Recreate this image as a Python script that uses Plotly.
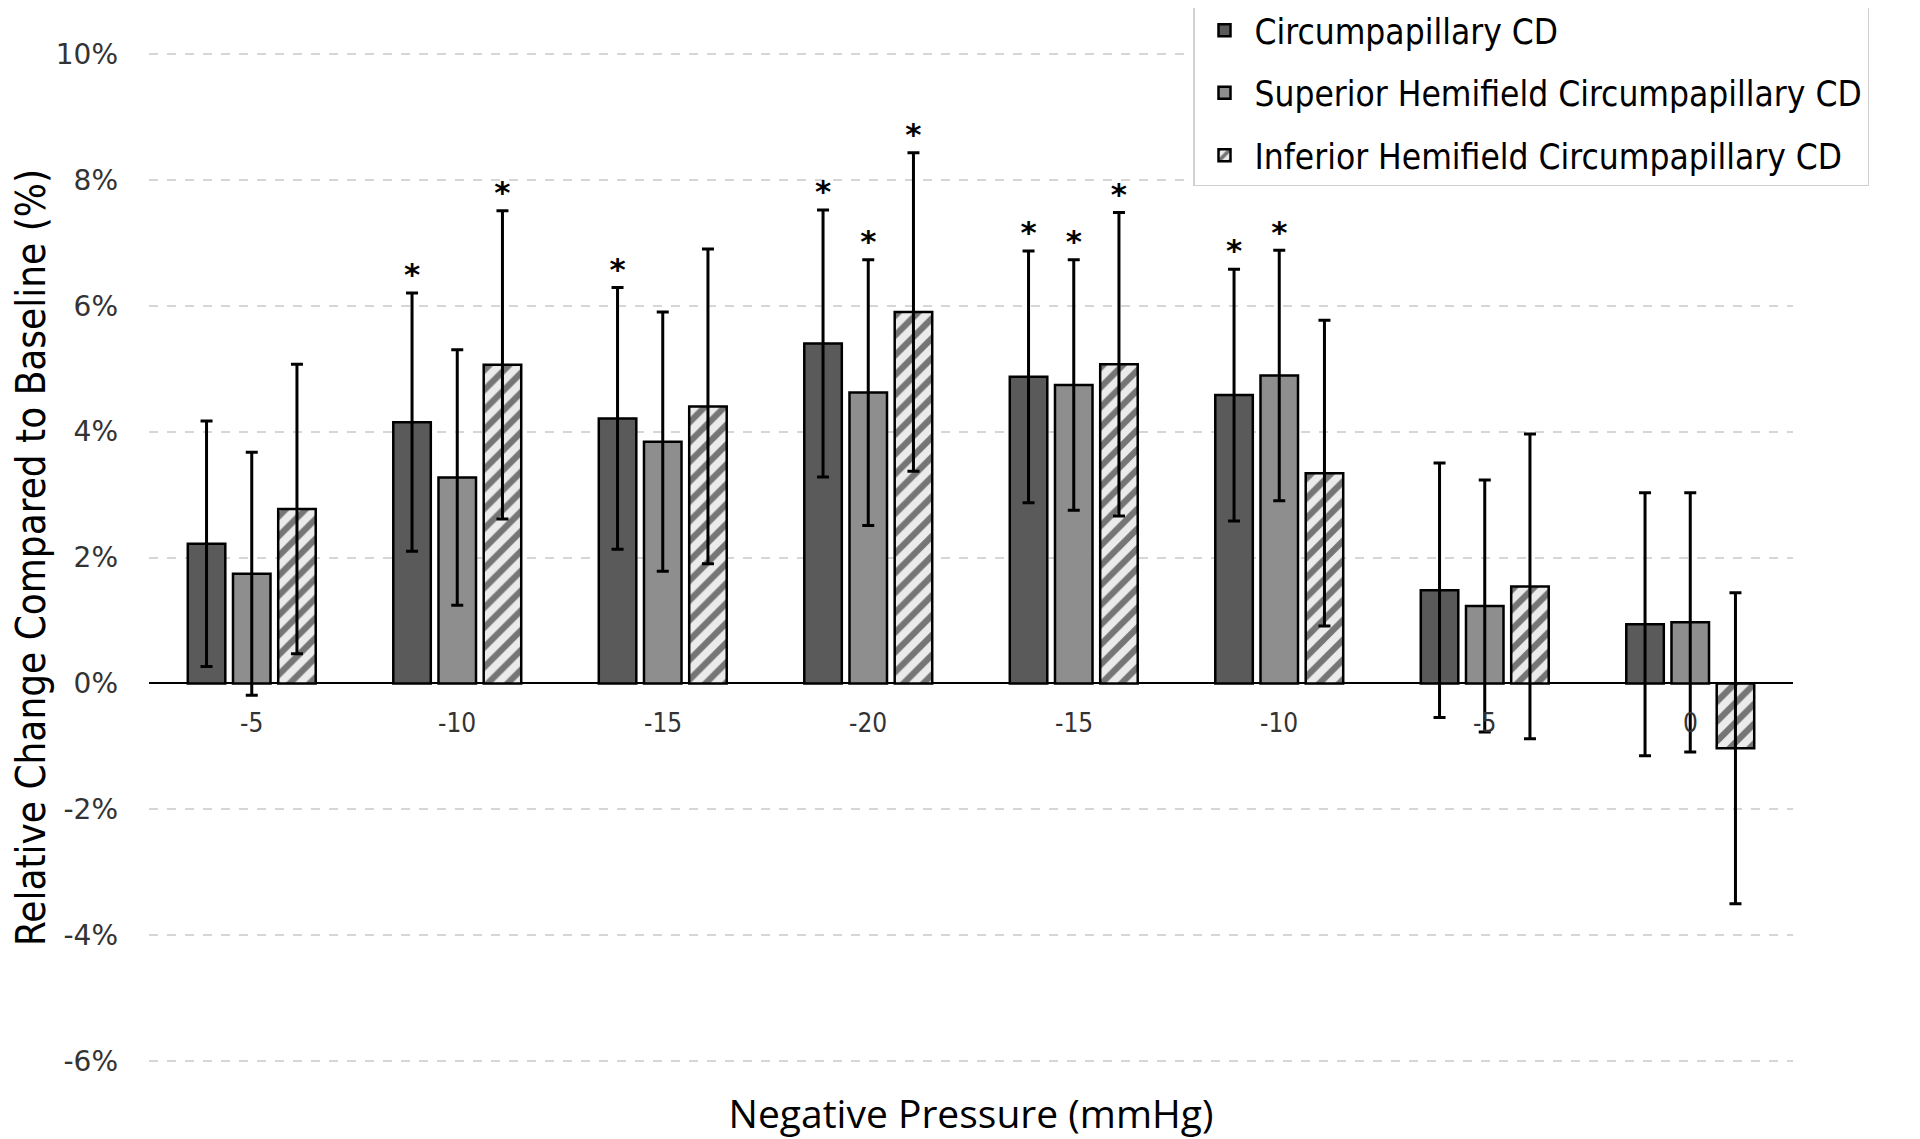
import plotly.graph_objects as go

# pressure steps along the protocol (repeated labels, so a numeric axis is used)
pressure_labels = ["-5", "-10", "-15", "-20", "-15", "-10", "-5", "0"]

cd_mean = [2.22, 4.15, 4.21, 5.40, 4.87, 4.58, 1.48, 0.94]
cd_err = [1.95, 2.05, 2.08, 2.12, 2.00, 2.00, 2.02, 2.09]
cd_sig = [0, 1, 1, 1, 1, 1, 0, 0]

sup_mean = [1.74, 3.27, 3.84, 4.62, 4.74, 4.89, 1.23, 0.97]
sup_err = [1.93, 2.03, 2.06, 2.11, 1.99, 1.99, 2.00, 2.06]
sup_sig = [0, 0, 0, 1, 1, 1, 0, 0]

inf_mean = [2.77, 5.06, 4.40, 5.90, 5.07, 3.34, 1.54, -1.03]
inf_err = [2.30, 2.45, 2.50, 2.53, 2.41, 2.43, 2.42, 2.47]
inf_sig = [0, 1, 0, 1, 1, 0, 0, 0]

y_ticks = [-6, -4, -2, 0, 2, 4, 6, 8, 10]
y_ticktext = [f"{v}%" for v in y_ticks]

xpos = list(range(len(pressure_labels)))
BAR_STEP = 0.22  # one bar slot, as fraction of a category

series = [
    ("Circumpapillary CD", cd_mean, cd_err, cd_sig, "#5a5a5a", None),
    ("Superior Hemifield Circumpapillary CD", sup_mean, sup_err, sup_sig, "#8e8e8e", None),
    ("Inferior Hemifield Circumpapillary CD", inf_mean, inf_err, inf_sig, "#ebebeb", "/"),
]

fig = go.Figure()
for k, (name, mean, err, sig, color, pattern) in enumerate(series):
    marker = dict(color=color, line=dict(color="black", width=2.5))
    if pattern:
        marker["pattern"] = dict(shape=pattern, fgcolor="black", bgcolor=color,
                                 size=14, solidity=0.45)
    fig.add_trace(go.Bar(
        x=xpos, y=mean, name=name, marker=marker,
        legendgroup=name,
        error_y=dict(type="data", array=err, color="black", thickness=3, width=6),
    ))

# significance stars above the error bars
for k, (name, mean, err, sig, color, pattern) in enumerate(series):
    sx = [x + (k - 1) * BAR_STEP for x, s in zip(xpos, sig) if s]
    sy = [m + e for m, e, s in zip(mean, err, sig) if s]
    fig.add_trace(go.Scatter(
        x=sx, y=sy, mode="text", text=["<b>*</b>"] * len(sx), textposition="top center",
        textfont=dict(family="DejaVu Sans", size=31, color="black"),
        showlegend=False, hoverinfo="skip", cliponaxis=False,
    ))

# x tick labels sit under the zero line, like the original
for x, lab in zip(xpos, pressure_labels):
    fig.add_annotation(x=x, y=0, text=lab, showarrow=False, yanchor="top", yshift=-23,
                       font=dict(family="DejaVu Sans Condensed", size=26, color="#333333"))

fig.update_layout(
    width=1920, height=1139,
    template="plotly_white",
    paper_bgcolor="white", plot_bgcolor="white",
    barmode="group", bargap=0.34, bargroupgap=0.17,
    margin=dict(l=141, r=135, t=44, b=84, autoexpand=False),
    legend=dict(
        x=(1185 - 141) / 1644, y=1.052,
        xanchor="left", yanchor="top",
        bordercolor="#d0d0d0", borderwidth=1.5, bgcolor="white",
        font=dict(family="DejaVu Sans Condensed", size=35, color="black"),
        tracegroupgap=14, itemwidth=50,
    ),
)
fig.update_xaxes(
    range=[-0.5, 7.5], showticklabels=False, showgrid=False, zeroline=False,
    showline=False, ticks="",
    title=dict(text="Negative Pressure (mmHg)", standoff=37,
               font=dict(family="Open Sans", size=39, color="black")),
)
fig.update_yaxes(
    range=[-6.03, 10.03], tickvals=y_ticks, ticktext=y_ticktext,
    tickfont=dict(family="DejaVu Sans", size=28, color="#333333"),
    showgrid=True, gridcolor="#d6d6d6", griddash="dash", gridwidth=1.5,
    zeroline=True, zerolinecolor="black", zerolinewidth=1.5,
    ticks="", ticklabelstandoff=30,
    title=dict(text="Relative Change Compared to Baseline (%)", standoff=0,
               font=dict(family="DejaVu Sans Condensed", size=40, color="black")),
)

fig.write_html("out.html")
